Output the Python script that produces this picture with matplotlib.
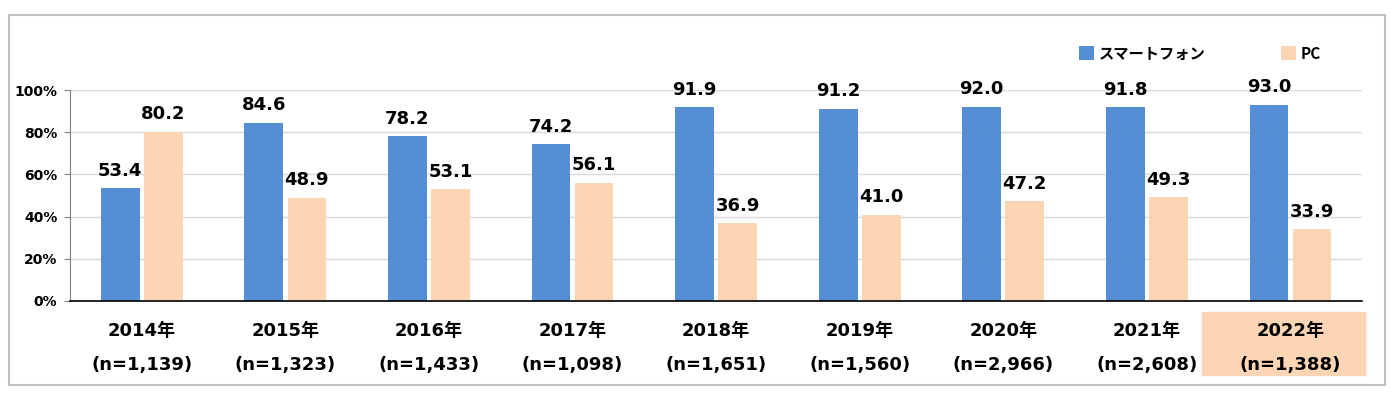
import numpy as np
import matplotlib.pyplot as plt
from matplotlib.patches import Rectangle

plt.rcParams['font.family'] = ['DejaVu Sans', 'Noto Sans CJK JP']

years = ["2014年", "2015年", "2016年", "2017年", "2018年", "2019年", "2020年", "2021年", "2022年"]
samples = ["1,139", "1,323", "1,433", "1,098", "1,651", "1,560", "2,966", "2,608", "1,388"]
smartphone = [53.4, 84.6, 78.2, 74.2, 91.9, 91.2, 92.0, 91.8, 93.0]
pc = [80.2, 48.9, 53.1, 56.1, 36.9, 41.0, 47.2, 49.3, 33.9]

blue = "#558ED5"
peach = "#FCD5B4"

fig = plt.figure(figsize=(13.97, 3.95), dpi=100)
# outer frame
fig.patches.append(Rectangle((9 / 1397, 10 / 395), 1376 / 1397, 370 / 395, transform=fig.transFigure,
                             fill=False, edgecolor="#BFBFBF", linewidth=1.5))
ax = fig.add_axes([0.0501, 0.238, 0.925, 0.534])

x = np.arange(len(years))
w = 0.27
gap = 0.015
b1 = ax.bar(x - w / 2 - gap, smartphone, w, color=blue, label="スマートフォン", zorder=2)
b2 = ax.bar(x + w / 2 + gap, pc, w, color=peach, label="PC", zorder=2)

for bars, vals in ((b1, smartphone), (b2, pc)):
    for r, v in zip(bars, vals):
        ax.text(r.get_x() + r.get_width() / 2, v + 4, f"{v:.1f}", ha="center", va="bottom",
                fontsize=13, fontweight="bold")

ax.set_xlim(-0.5, len(years) - 0.5)
ax.set_ylim(0, 100)
ax.set_yticks(range(0, 101, 20))
ax.set_yticklabels([f"{t}%" for t in range(0, 101, 20)], fontsize=10, fontweight="bold")
ax.grid(axis="y", color="#D9D9D9", linewidth=1, zorder=0)
ax.set_xticks(x)
ax.set_xticklabels([f"{y}\n(n={n})" for y, n in zip(years, samples)],
                   fontsize=13, fontweight="bold", linespacing=2.15)
ax.tick_params(axis="x", length=0, pad=15)
ax.tick_params(axis="y", length=4, color="#808080", pad=5)
for s in ("top", "right"):
    ax.spines[s].set_visible(False)
ax.spines["left"].set_color("#808080")
ax.spines["bottom"].set_color("black")
ax.spines["bottom"].set_linewidth(1.2)

# highlight behind last label
ax.add_patch(Rectangle((1202 / 1397, 1 - 375 / 395), 163 / 1397, 63 / 395,
                       transform=fig.transFigure, color=peach, zorder=0, clip_on=False))

ax.legend(loc="lower right", bbox_to_anchor=(0.9785, 1.07), ncol=2, frameon=False,
          prop={"family": "Noto Sans CJK JP", "weight": "bold", "size": 11},
          handlelength=1.0, handleheight=1.0, columnspacing=4.9, handletextpad=0.3)

fig.savefig("out.png", dpi=100)
